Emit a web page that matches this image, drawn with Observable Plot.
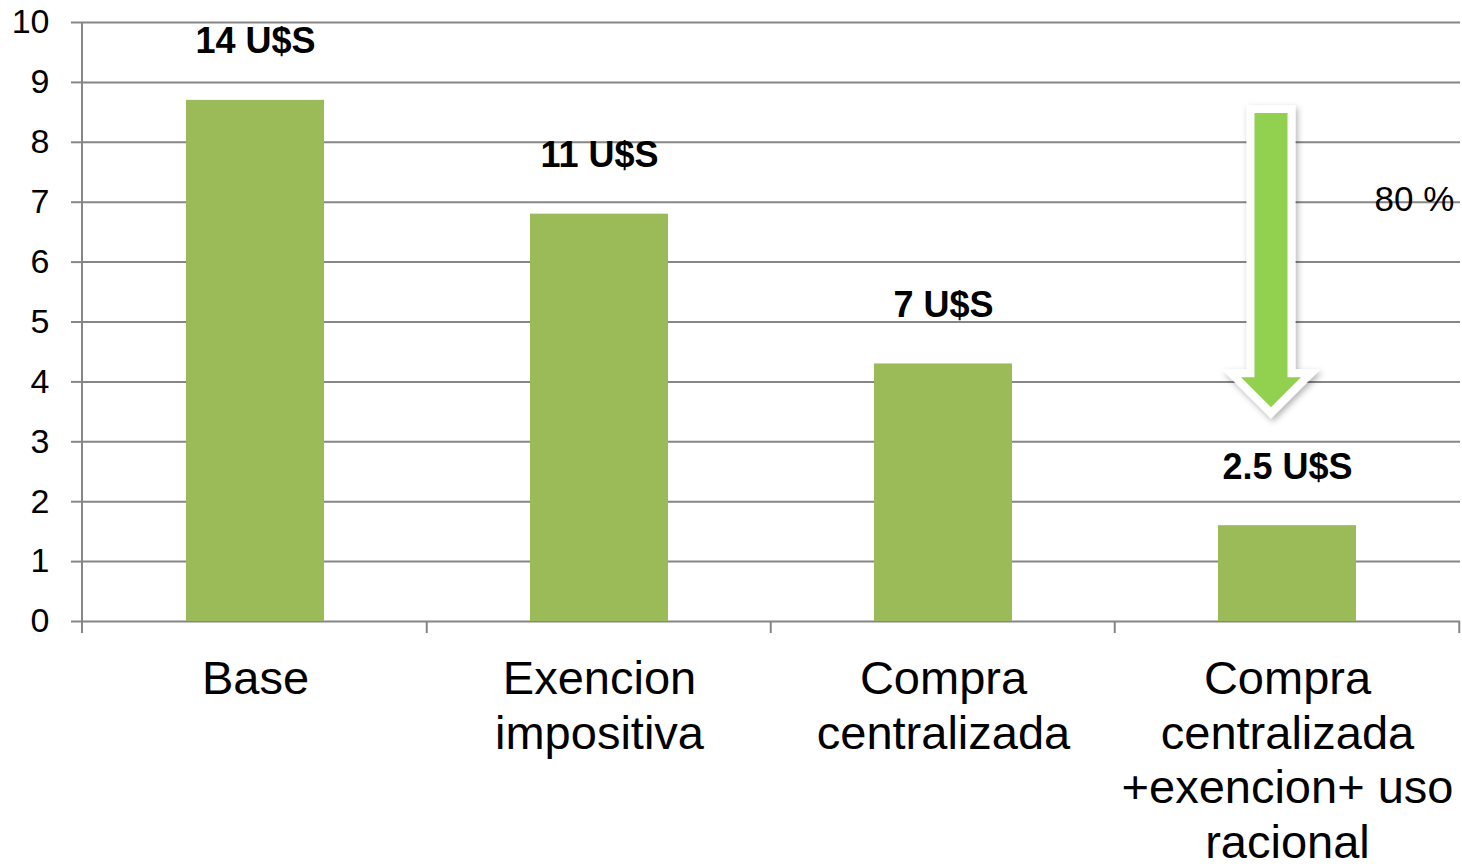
<!DOCTYPE html>
<html>
<head>
<meta charset="utf-8">
<script src="https://cdn.jsdelivr.net/npm/d3@7"></script>
<script src="https://cdn.jsdelivr.net/npm/@observablehq/plot@0.6"></script>
<style>
  html, body { margin: 0; padding: 0; background: #ffffff; overflow: hidden; }
  #chart svg { display: block; }
</style>
</head>
<body>
<div id="chart"></div>
<script>
// ---- data ----
const categories = [
  "Base",
  "Exencion impositiva",
  "Compra centralizada",
  "Compra centralizada +exencion+ uso racional"
];
const categoryLabels = [
  "Base",
  "Exencion\nimpositiva",
  "Compra\ncentralizada",
  "Compra\ncentralizada\n+exencion+ uso\nracional"
];
const values = [8.7, 6.8, 4.3, 1.6];
const costLabels = ["14 U$S", "11 U$S", "7 U$S", "2.5 U$S"];
const yTicks = [0, 1, 2, 3, 4, 5, 6, 7, 8, 9, 10];
const arrowCategory = categories[3];
const arrowFrom = 8.48;
const arrowTo = 3.57;
const reductionLabel = "80 %";
const reductionY = 6.86;

// ---- derived tables ----
const rows = categories.map((c, i) => ({category: c, value: values[i], label: costLabels[i]}));
const labelMap = new Map(categories.map((c, i) => [c, categoryLabels[i]]));

const GRID = "#868686";
const BAR = "#9BBB59";
const ARROW = "#92D050";
const FONT = "'Liberation Sans', Arial, sans-serif";

function bandInfo(scales, dims) {
  const x = scales.x;
  const n = categories.length;
  const step = (dims.width - dims.marginLeft - dims.marginRight) / n;
  const bw = (x && x.bandwidth) ? x.bandwidth() : step * 0.4;
  return {x, step, bw};
}

// axis lines + category boundary ticks
function axisFrame(index, scales, values, dims) {
  const {x, step, bw} = bandInfo(scales, dims);
  const gap = (step - bw) / 2;
  const y0 = scales.y(0);
  const yTop = scales.y(10);
  const g = d3.create("svg:g")
    .attr("stroke", GRID)
    .attr("stroke-width", 2)
    .attr("fill", "none");
  const xl = dims.marginLeft;
  g.append("line").attr("x1", xl).attr("x2", xl).attr("y1", yTop).attr("y2", y0 + 12);
  const bounds = categories.map(c => x(c) - gap);
  bounds.push(x(categories[categories.length - 1]) + bw + gap);
  for (const b of bounds.slice(1)) {
    g.append("line").attr("x1", b).attr("x2", b).attr("y1", y0).attr("y2", y0 + 12);
  }
  return g.node();
}

// big green down arrow
function reductionArrow(index, scales, values, dims) {
  const {x, bw} = bandInfo(scales, dims);
  const cx = x(arrowCategory) + bw / 2 - 16;
  const yTop = scales.y(arrowFrom);
  const yTip = scales.y(arrowTo);
  const sw = 16.5, hw = 30, hh = 30;
  const d = `M${cx - sw},${yTop} L${cx + sw},${yTop} L${cx + sw},${yTip - hh} L${cx + hw},${yTip - hh} ` +
            `L${cx},${yTip} L${cx - hw},${yTip - hh} L${cx - sw},${yTip - hh} Z`;
  const g = d3.create("svg:g");
  const defs = g.append("defs");
  const f = defs.append("filter").attr("id", "arrowShadow")
    .attr("x", "-50%").attr("y", "-20%").attr("width", "200%").attr("height", "140%");
  f.append("feDropShadow").attr("dx", 2).attr("dy", 3).attr("stdDeviation", 3)
    .attr("flood-color", "#000").attr("flood-opacity", 0.3);
  g.append("path").attr("d", d)
    .attr("fill", "#ffffff").attr("stroke", "#ffffff").attr("stroke-width", 16)
    .attr("stroke-linejoin", "miter").attr("stroke-miterlimit", 10)
    .attr("filter", "url(#arrowShadow)");
  g.append("path").attr("d", d).attr("fill", ARROW);
  return g.node();
}

const chart = Plot.plot({
  width: 1462,
  height: 867,
  marginLeft: 82,
  marginRight: 2,
  marginTop: 22,
  marginBottom: 246,
  style: {fontFamily: FONT, background: "#ffffff", color: "#000"},
  x: {domain: categories, paddingInner: 0.6, paddingOuter: 0.3, label: null},
  y: {domain: [0, 10], label: null},
  marks: [
    Plot.ruleY(yTicks, {stroke: GRID, strokeWidth: 2}),
    Plot.axisY(yTicks, {
      tickSize: 11, tickPadding: 22, fontSize: 34, label: null,
      stroke: GRID, strokeWidth: 2, fill: "#000", strokeOpacity: 1,
      tickFormat: d => String(d)
    }),
    Plot.axisX({
      tickSize: 0, tickPadding: 34, fontSize: 47, lineHeight: 1.16, label: null,
      fill: "#000",
      tickFormat: d => labelMap.get(d)
    }),
    Plot.barY(rows, {x: "category", y: "value", fill: BAR}),
    axisFrame,
    Plot.text(rows, {
      x: "category", y: "value", text: "label",
      dy: -47, lineAnchor: "bottom",
      fontSize: 36, fontWeight: "bold", fill: "#000"
    }),
    reductionArrow,
    Plot.text([{category: arrowCategory, y: reductionY, text: reductionLabel}], {
      x: "category", y: "y", text: "text",
      dx: 127, lineAnchor: "bottom",
      fontSize: 35, fill: "#000"
    })
  ]
});

document.getElementById("chart").appendChild(chart);
</script>
</body>
</html>
